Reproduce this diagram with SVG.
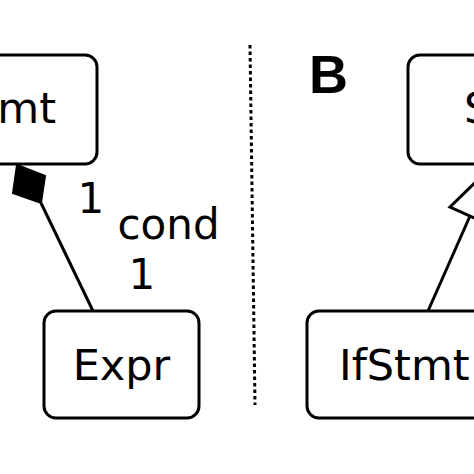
<svg xmlns="http://www.w3.org/2000/svg" width="474" height="474" viewBox="0 0 474 474">
<style>
.box{fill:#fff;stroke:#000;stroke-width:3}
.t{font-family:"DejaVu Sans",sans-serif;font-size:43px;fill:#000}
.lbl{font-family:"DejaVu Sans",sans-serif;font-size:42px;fill:#000}
.ln{stroke:#000;stroke-width:3;fill:none}
</style>
<rect width="474" height="474" fill="#fff"/>
<g id="divider">
<line x1="250" y1="45" x2="255" y2="405" stroke="#000" stroke-width="3" stroke-dasharray="3.5 3"/>
</g>
<text x="309" y="93" style="font-family:'Liberation Sans',Arial,sans-serif;font-weight:bold;font-size:54px">B</text>
<g id="node-stmt-left">
<rect class="box" x="-60" y="55" width="157" height="109" rx="12"/>
<text class="t" x="56" y="123" text-anchor="end">mt</text>
</g>
<g id="node-expr">
<rect class="box" x="44" y="311" width="155" height="107" rx="12"/>
<text class="t" x="121.5" y="380" text-anchor="middle">Expr</text>
</g>
<g id="node-stmt-right">
<rect class="box" x="408" y="55" width="140" height="109" rx="12"/>
<text class="t" x="464" y="123">S</text>
</g>
<g id="node-ifstmt">
<rect class="box" x="307" y="311" width="240" height="107" rx="12"/>
<text class="t" x="339" y="380">IfStmt</text>
</g>
<g id="connectors">
<line class="ln" x1="41" y1="203" x2="93" y2="311"/>
<polygon points="17,165 45,176 41,203 13,193" fill="#000" stroke="#000" stroke-width="2" stroke-linejoin="miter"/>
<line class="ln" x1="428" y1="311" x2="470" y2="216"/>
<polygon points="494,164 450,207 490,225" fill="#fff" stroke="#000" stroke-width="3" stroke-linejoin="miter"/>
</g>
<g id="labels">
<text class="lbl" x="77.5" y="213">1</text>
<text class="lbl" x="117.5" y="239">cond</text>
<text class="lbl" x="128.5" y="289">1</text>
</g>
</svg>
